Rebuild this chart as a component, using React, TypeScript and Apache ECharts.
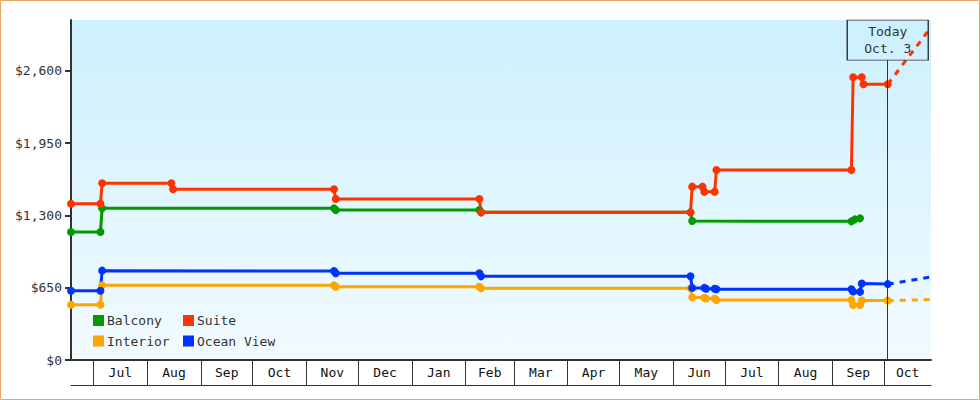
import React, { useEffect, useRef } from 'react';
import * as echarts from 'echarts';

// ---------- data ----------
const seriesNames = ['Balcony', 'Suite', 'Interior', 'Ocean View'];
const seriesColors = ['#009900', '#ff3300', '#ffa500', '#0033ff'];

const balconyDates = ['2012-06-18', '2012-07-05', '2012-07-06', '2012-11-17', '2012-11-18', '2013-02-09', '2013-02-10', '2013-06-11', '2013-06-12', '2013-09-12', '2013-09-14', '2013-09-17'];
const balconyPrices = [1150, 1150, 1363, 1363, 1348, 1348, 1327, 1327, 1249, 1246, 1264, 1273];

const suiteDates = ['2012-06-18', '2012-07-05', '2012-07-06', '2012-08-15', '2012-08-16', '2012-11-17', '2012-11-18', '2013-02-09', '2013-02-10', '2013-06-11', '2013-06-12', '2013-06-18', '2013-06-19', '2013-06-25', '2013-06-26', '2013-09-12', '2013-09-13', '2013-09-18', '2013-09-19', '2013-10-03'];
const suitePrices = [1405, 1405, 1588, 1588, 1535, 1535, 1447, 1447, 1327, 1327, 1558, 1558, 1513, 1513, 1708, 1708, 2541, 2541, 2478, 2478];

const interiorDates = ['2012-06-18', '2012-07-05', '2012-07-06', '2012-11-17', '2012-11-18', '2013-02-09', '2013-02-10', '2013-06-11', '2013-06-12', '2013-06-19', '2013-06-20', '2013-06-25', '2013-06-26', '2013-09-12', '2013-09-13', '2013-09-17', '2013-09-18', '2013-10-03'];
const interiorPrices = [497, 497, 671, 671, 659, 659, 644, 644, 563, 560, 553, 553, 539, 539, 494, 494, 534, 534];

const oceanDates = ['2012-06-18', '2012-07-05', '2012-07-06', '2012-11-17', '2012-11-18', '2013-02-09', '2013-02-10', '2013-06-11', '2013-06-12', '2013-06-19', '2013-06-20', '2013-06-25', '2013-06-26', '2013-09-12', '2013-09-13', '2013-09-17', '2013-09-18', '2013-10-03'];
const oceanPrices = [623, 623, 803, 800, 780, 780, 752, 752, 648, 648, 640, 640, 636, 636, 615, 612, 688, 682];

// forecasts (dashed, after today)
const forecastDates = ['2013-10-03', '2013-10-28'];
const suiteForecast = [2478, 2990];
const interiorForecast = [534, 543];
const oceanForecast = [682, 746];

const monthLabels = ['Jul', 'Aug', 'Sep', 'Oct', 'Nov', 'Dec', 'Jan', 'Feb', 'Mar', 'Apr', 'May', 'Jun', 'Jul', 'Aug', 'Sep', 'Oct'];
const monthStarts = ['2012-07-01', '2012-08-01', '2012-09-01', '2012-10-01', '2012-11-01', '2012-12-01', '2013-01-01', '2013-02-01', '2013-03-01', '2013-04-01', '2013-05-01', '2013-06-01', '2013-07-01', '2013-08-01', '2013-09-01', '2013-10-01'];
const axisStart = '2012-06-18';
const axisEnd = '2013-10-28';
const todayDate = '2013-10-03';
const todayLabel = 'Today\nOct. 3';
const yTicks = [0, 650, 1300, 1950, 2600];
const yMax = 3056;
const todayLineTop = 2696;
const todayBoxCenter = 2876;

// ---------- helpers ----------
const ts = (s: string) => Date.parse(s + 'T00:00:00Z');
const FONT = '"DejaVu Sans Mono", monospace';
const TEXT = '#333333';

const monthMids = monthStarts.map((m, i) => {
  const a = ts(m);
  const b = i + 1 < monthStarts.length ? ts(monthStarts[i + 1]) : ts(axisEnd);
  return (a + b) / 2;
});

function lineSeries(name: string, dates: string[], prices: number[], color: string, extra: any = {}) {
  return {
    type: 'line',
    name,
    data: dates.map((d, i) => [ts(d), prices[i]]),
    symbol: 'circle',
    symbolSize: 8,
    showSymbol: true,
    lineStyle: { color, width: 3 },
    itemStyle: { color },
    emphasis: { disabled: true },
    silent: true,
    ...extra,
  };
}

function forecastSeries(name: string, values: number[], color: string) {
  return {
    type: 'line',
    name: name + ' forecast',
    data: forecastDates.map((d, i) => [ts(d), values[i]]),
    symbol: 'none',
    lineStyle: { color, width: 3, type: [6, 6] },
    itemStyle: { color },
    emphasis: { disabled: true },
    silent: true,
  };
}

export default function App() {
  const ref = useRef<HTMLDivElement>(null);

  useEffect(() => {
    if (!ref.current) return;
    const chart = echarts.init(ref.current, undefined, { renderer: 'svg' });
    const todayTs = ts(todayDate);

    const legendCommon = {
      orient: 'vertical',
      padding: 0,
      itemWidth: 11,
      itemHeight: 11,
      itemGap: 6.5,
      icon: 'rect',
      selectedMode: false,
      textStyle: { fontFamily: FONT, fontSize: 13, color: TEXT, lineHeight: 14, padding: [0, 0, 0, -2] },
    };

    const option: any = {
      animation: false,
      backgroundColor: '#ffffff',
      graphic: [
        {
          type: 'rect',
          silent: true,
          shape: { x: 0.5, y: 0.5, width: 979, height: 399 },
          style: { fill: 'none', stroke: '#e8a85e', lineWidth: 1 },
          z: 100,
        },
      ],
      grid: {
        left: 71,
        top: 20,
        width: 860,
        height: 340,
        show: true,
        borderWidth: 0,
        backgroundColor: new echarts.graphic.LinearGradient(0, 0, 0, 1, [
          { offset: 0, color: '#ccf0fd' },
          { offset: 1, color: '#f2fbff' },
        ]),
      },
      legend: [
        { ...legendCommon, data: [seriesNames[0], seriesNames[2]], left: 93, top: 313.5 },
        { ...legendCommon, data: [seriesNames[1], seriesNames[3]], left: 183, top: 313.5 },
      ],
      xAxis: [
        {
          type: 'value',
          min: ts(axisStart),
          max: ts(axisEnd),
          position: 'bottom',
          axisLine: { show: true, lineStyle: { color: TEXT, width: 2 } },
          axisTick: { show: true, customValues: monthStarts.map(ts), length: 25, lineStyle: { color: TEXT, width: 1 } },
          axisLabel: {
            show: true,
            customValues: monthMids,
            margin: 6,
            fontFamily: FONT,
            fontSize: 13,
            color: '#111',
            formatter: (v: number) => {
              const i = monthMids.findIndex((m) => Math.abs(m - v) < 1000);
              return i >= 0 ? monthLabels[i] : '';
            },
          },
          splitLine: { show: false },
        },
        {
          type: 'value',
          min: ts(axisStart),
          max: ts(axisEnd),
          position: 'bottom',
          offset: 25,
          axisLine: { show: true, lineStyle: { color: TEXT, width: 1 } },
          axisTick: { show: false },
          axisLabel: { show: false },
          splitLine: { show: false },
        },
      ],
      yAxis: {
        type: 'value',
        min: 0,
        max: yMax,
        axisLine: { show: true, lineStyle: { color: TEXT, width: 2 } },
        axisTick: { show: true, customValues: yTicks, length: 6, lineStyle: { color: TEXT, width: 2 } },
        axisLabel: {
          customValues: yTicks,
          margin: 9,
          fontFamily: FONT,
          fontSize: 13,
          color: TEXT,
          formatter: (v: number) => '$' + v.toLocaleString('en-US'),
        },
        splitLine: { show: false },
      },
      series: [
        lineSeries(seriesNames[0], balconyDates, balconyPrices, seriesColors[0], {
          markLine: {
            silent: true,
            symbol: ['none', 'none'],
            label: { show: false },
            lineStyle: { color: TEXT, width: 1, type: 'solid' },
            emphasis: { disabled: true },
            data: [[{ coord: [todayTs, 0] }, { coord: [todayTs, todayLineTop] }]],
          },
          markPoint: {
            silent: true,
            symbol: 'rect',
            symbolSize: [81, 40],
            itemStyle: { color: 'rgba(0,0,0,0)', borderColor: TEXT, borderWidth: 1 },
            label: {
              show: true,
              position: 'inside',
              formatter: todayLabel,
              fontFamily: FONT,
              fontSize: 13,
              lineHeight: 17.5,
              color: TEXT,
            },
            emphasis: { disabled: true },
            data: [{ coord: [todayTs, todayBoxCenter] }],
          },
        }),
        lineSeries(seriesNames[1], suiteDates, suitePrices, seriesColors[1]),
        lineSeries(seriesNames[2], interiorDates, interiorPrices, seriesColors[2]),
        lineSeries(seriesNames[3], oceanDates, oceanPrices, seriesColors[3]),
        forecastSeries(seriesNames[1], suiteForecast, seriesColors[1]),
        forecastSeries(seriesNames[2], interiorForecast, seriesColors[2]),
        forecastSeries(seriesNames[3], oceanForecast, seriesColors[3]),
      ],
    };

    chart.setOption(option);
    return () => chart.dispose();
  }, []);

  return (
    <div
      ref={ref}
      style={{ position: 'fixed', left: 0, top: 0, width: 980, height: 400, background: '#fff' }}
    />
  );
}
